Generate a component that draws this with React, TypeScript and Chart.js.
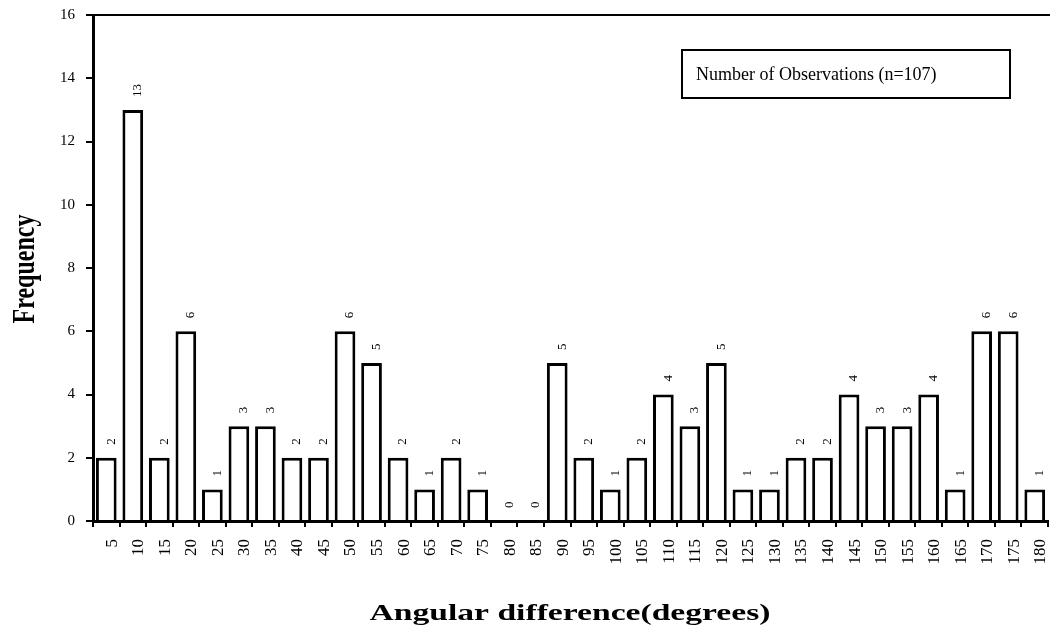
import React, { useEffect, useRef } from "react";
import { Chart, registerables } from "chart.js";

Chart.register(...registerables);

const categories = ["5","10","15","20","25","30","35","40","45","50","55","60","65","70","75","80","85","90","95","100","105","110","115","120","125","130","135","140","145","150","155","160","165","170","175","180"];
const frequencies = [2,13,2,6,1,3,3,2,2,6,5,2,1,2,1,0,0,5,2,1,2,4,3,5,1,1,2,2,4,3,3,4,1,6,6,1];
const yTicks = [0,2,4,6,8,10,12,14,16];
const legendText = "Number of Observations (n=107)";
const xTitle = "Angular difference(degrees)";
const yTitle = "Frequency";

const SERIF = "'Liberation Serif', 'DejaVu Serif', serif";

const decorPlugin = {
  id: "decor",
  afterDatasetsDraw(chart: any) {
    const { ctx, chartArea } = chart;
    const meta = chart.getDatasetMeta(0);
    ctx.save();
    // value labels
    ctx.fillStyle = "#000";
    ctx.font = `13px ${SERIF}`;
    ctx.textAlign = "left";
    ctx.textBaseline = "middle";
    meta.data.forEach((bar: any, i: number) => {
      ctx.save();
      ctx.translate(bar.x + 5, bar.y - 13);
      ctx.rotate(-Math.PI / 2);
      ctx.fillText(String(frequencies[i]), 0, 0);
      ctx.restore();
    });
    // top border
    ctx.strokeStyle = "#000";
    ctx.lineWidth = 2;
    ctx.beginPath();
    ctx.moveTo(chartArea.left - 1, chartArea.top);
    ctx.lineTo(chartArea.right + 2, chartArea.top);
    ctx.stroke();
    // legend box
    ctx.lineWidth = 2;
    ctx.strokeRect(682, 50, 328, 48);
    ctx.font = `18px ${SERIF}`;
    ctx.textAlign = "left";
    ctx.textBaseline = "middle";
    ctx.fillText(legendText, 696, 75);
    // axis titles
    ctx.font = `bold 24px ${SERIF}`;
    ctx.textAlign = "center";
    ctx.save();
    ctx.translate(570, 614);
    ctx.scale(1.4, 1);
    ctx.fillText(xTitle, 0, 0);
    ctx.restore();
    ctx.save();
    ctx.translate(26, 269);
    ctx.scale(1.3, 1);
    ctx.rotate(-Math.PI / 2);
    ctx.fillText(yTitle, 0, 0);
    ctx.restore();
    ctx.restore();
  },
};

export default function App() {
  const ref = useRef<HTMLCanvasElement>(null);
  useEffect(() => {
    if (!ref.current) return;
    const chart = new Chart(ref.current, {
      type: "bar",
      data: {
        labels: categories,
        datasets: [
          {
            data: frequencies,
            backgroundColor: "#fff",
            borderColor: "#000",
            borderWidth: 3,
            barPercentage: 0.78,
            categoryPercentage: 1,
          },
        ],
      },
      options: {
        responsive: false,
        animation: false,
        layout: { padding: { top: 15, right: 3, left: 0, bottom: 0 } },
        plugins: { legend: { display: false }, tooltip: { enabled: false } },
        scales: {
          x: {
            grid: { display: true, drawOnChartArea: false, drawTicks: true, tickLength: 6, color: "#000", lineWidth: 2, offset: true },
            border: { display: true, color: "#000", width: 3 },
            ticks: {
              color: "#000",
              font: { family: SERIF, size: 17 },
              minRotation: 90,
              maxRotation: 90,
              autoSkip: false,
              padding: 12,
              labelOffset: 6,
            },
            afterFit(scale: any) {
              scale.height = 115;
              scale.paddingLeft = 0;
              scale.paddingRight = 0;
              scale.paddingTop = 0;
              scale.paddingBottom = 0;
            },
          },
          y: {
            min: 0,
            max: 16,
            afterBuildTicks(scale: any) {
              scale.ticks = yTicks.map((v) => ({ value: v }));
            },
            grid: { display: true, drawOnChartArea: false, drawTicks: true, tickLength: 7, color: "#000", lineWidth: 2 },
            border: { display: true, color: "#000", width: 3 },
            ticks: { color: "#000", font: { family: SERIF, size: 15 }, padding: 11 },
            afterFit(scale: any) {
              scale.width = 93;
              scale.paddingTop = 0;
              scale.paddingBottom = 0;
              scale.paddingLeft = 0;
              scale.paddingRight = 0;
            },
          },
        },
      },
      plugins: [decorPlugin],
    });
    return () => chart.destroy();
  }, []);
  return (
    <div style={{ position: "fixed", left: 0, top: 0, width: 1051, height: 636, background: "#fff" }}>
      <canvas ref={ref} width={1051} height={636} />
    </div>
  );
}
